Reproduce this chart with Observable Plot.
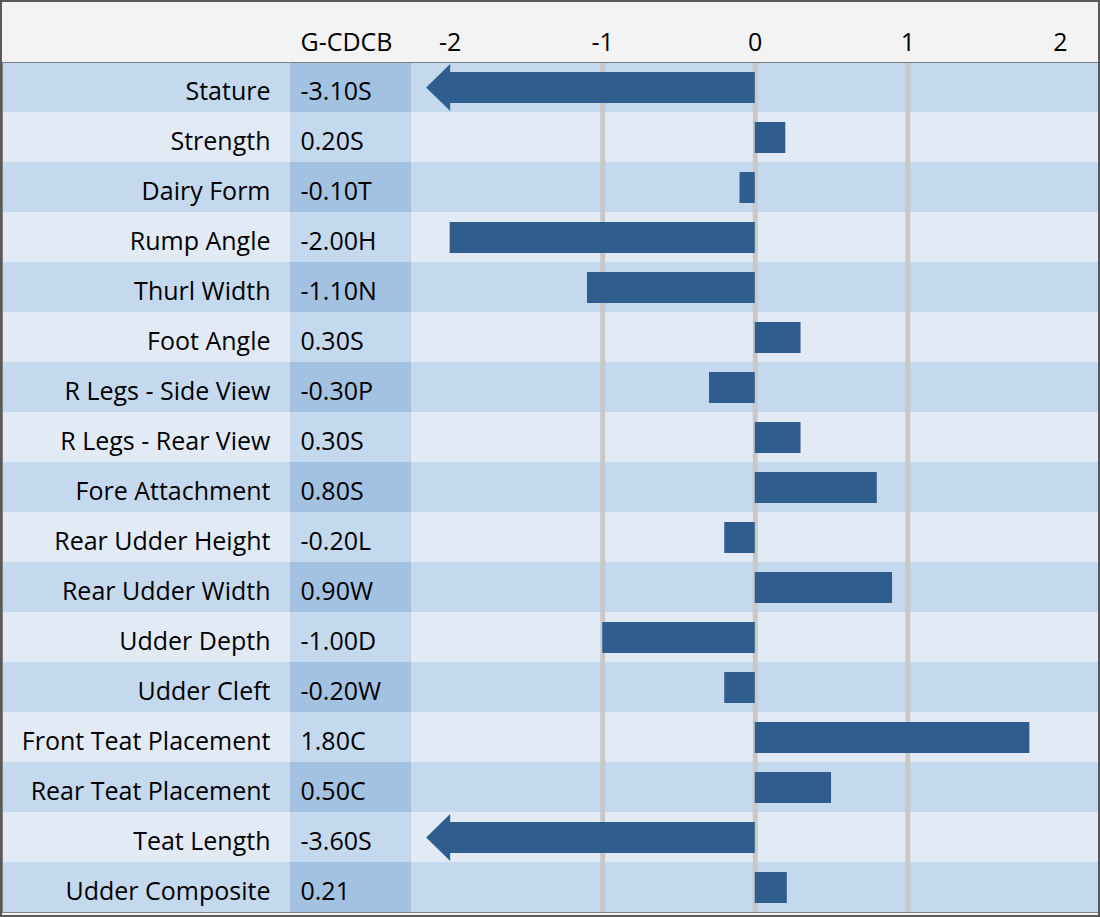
<!DOCTYPE html>
<html><head><meta charset="utf-8">
<script src="https://cdn.jsdelivr.net/npm/d3@7"></script>
<script src="https://cdn.jsdelivr.net/npm/@observablehq/plot@0.6"></script>
<style>
html,body{margin:0;padding:0;background:#fff;}
#wrap{width:1100px;height:917px;box-sizing:border-box;border:2px solid #595959;background:#f3f3f3;overflow:hidden;}
#wrap svg{display:block;}
</style></head><body><div id="wrap"></div>
<script>
const traits = ["Stature","Strength","Dairy Form","Rump Angle","Thurl Width","Foot Angle","R Legs - Side View","R Legs - Rear View","Fore Attachment","Rear Udder Height","Rear Udder Width","Udder Depth","Udder Cleft","Front Teat Placement","Rear Teat Placement","Teat Length","Udder Composite"];
const values = [-3.10, 0.20, -0.10, -2.00, -1.10, 0.30, -0.30, 0.30, 0.80, -0.20, 0.90, -1.00, -0.20, 1.80, 0.50, -3.60, 0.21];
const codes  = ["S","S","T","H","N","S","P","S","S","L","W","D","W","C","C","S",""];
const tickValues = [-2, -1, 0, 1, 2];
const gridValues = [-1, 0, 1];
const headerLabel = "G-CDCB";
const axisMin = -2;

const rows = traits.map((t, i) => ({trait: t, value: values[i], label: values[i].toFixed(2) + codes[i], i}));
const clipped = rows.filter(d => d.value < axisMin);

const font = "'Open Sans', sans-serif";
const fs = 25;
const BAR = "#2f5d8e";
const DARK = "#c5d9ee", LIGHT = "#e2ebf5", COL_DARK = "#a3c1e0", COL_LIGHT = "#c5d9ee";
const arrowHead = {draw(ctx) { ctx.moveTo(0, -23.5); ctx.lineTo(-24, 0); ctx.lineTo(0, 23.5); ctx.closePath(); }};

const chart = Plot.plot({
  width: 1096, height: 913,
  marginTop: 60, marginBottom: 3, marginLeft: 0, marginRight: 0,
  style: {fontFamily: font, fontSize: fs + "px", background: "#f3f3f3", color: "#000"},
  x: {domain: [-2.26, 2.25], range: [408, 1096], axis: null},
  y: {domain: traits, padding: 0, axis: null},
  marks: [
    Plot.cell(rows.filter(d => d.i % 2 === 0), {y: "trait", fill: DARK}),
    Plot.cell(rows.filter(d => d.i % 2 === 1), {y: "trait", fill: LIGHT}),
    Plot.ruleX(gridValues, {stroke: "#c8c8c8", strokeWidth: 5}),
    Plot.barX(rows, {y: "trait", x1: () => 0, x2: d => Math.max(d.value, axisMin), fill: BAR, insetTop: 10, insetBottom: 9}),
    Plot.dot(clipped, {x: () => axisMin, y: "trait", symbol: arrowHead, fill: BAR, stroke: "none", r: 10}),
    Plot.text(rows, {y: "trait", text: "trait", frameAnchor: "left", dx: 268, textAnchor: "end", dy: 4.5, fontSize: fs, fill: "#000"}),
    Plot.text(rows, {y: "trait", text: "label", frameAnchor: "left", dx: 298, textAnchor: "start", dy: 4.5, fontSize: fs, fill: "#000"}),
    Plot.text(tickValues, {x: d => d, text: d => String(d), frameAnchor: "top", dy: -12, lineAnchor: "bottom", fontSize: fs, fill: "#000"}),
    Plot.text([headerLabel], {text: d => d, frameAnchor: "top-left", dx: 298, dy: -12, lineAnchor: "bottom", textAnchor: "start", fontSize: fs, fill: "#000"}),
    Plot.frame({stroke: "#7f7f7f"})
  ]
});

// G-CDCB column background, positioned with the plot's own y scale
const ys = chart.scale("y");
const cells = chart.querySelectorAll('g[aria-label="cell"]');
const g = document.createElementNS("http://www.w3.org/2000/svg", "g");
cells[cells.length - 1].after(g);
d3.select(g).selectAll("rect").data(rows).join("rect")
  .attr("x", 288).attr("width", 121)
  .attr("y", d => ys.apply(d.trait)).attr("height", ys.bandwidth)
  .attr("fill", d => d.i % 2 === 0 ? COL_DARK : COL_LIGHT);

document.getElementById("wrap").appendChild(chart);
</script></body></html>
